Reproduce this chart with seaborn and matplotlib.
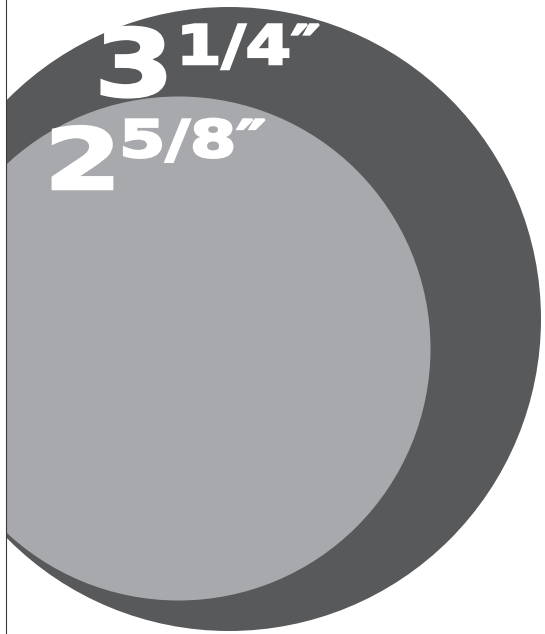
import matplotlib
matplotlib.use("Agg")
import matplotlib.pyplot as plt
from matplotlib.patches import Circle
from matplotlib.transforms import Affine2D
import matplotlib.patheffects as pe
import seaborn as sns

# hole sizes shown, in inches
sizes_in = [3.25, 2.625]
whole_part = ["3", "2"]
fraction_part = ["1/4\u2033", "5/8\u2033"]
fill_colors = ["#58595b", "#a7a9ac"]

W, H = 545, 634
PX_PER_IN = 192  # drawing scale


class WideHeavy(pe.AbstractPathEffect):
    """widen glyphs around x0 (display px) and thicken with a stroke"""

    def __init__(self, sx, x0, lw):
        super().__init__()
        self.sx, self.x0, self.lw = sx, x0, lw

    def draw_path(self, renderer, gc, tpath, affine, rgbFace=None):
        a = affine + Affine2D().translate(-self.x0, 0).scale(self.sx, 1).translate(self.x0, 0)
        gc0 = renderer.new_gc()
        gc0.copy_properties(gc)
        gc0.set_linewidth(self.lw)
        gc0.set_foreground(rgbFace if rgbFace is not None else "white")
        gc0.set_joinstyle("miter")
        renderer.draw_path(gc0, tpath, a, rgbFace)
        gc0.restore()


sns.set_theme(style="white")
plt.rcParams["font.family"] = ["DejaVu Sans"]

fig = plt.figure(figsize=(W / 100, H / 100), dpi=100)
left = 5.5
ax = fig.add_axes([left / W, 0, 1 - left / W, 1])
ax.set_xlim(left, W)
ax.set_ylim(H, 0)
ax.set_aspect("equal")
ax.set_xticks([])
ax.set_yticks([])
for side in ["top", "right", "bottom"]:
    ax.spines[side].set_visible(False)
ax.spines["left"].set_color("#3a3a3a")
ax.spines["left"].set_linewidth(0.8)

# circle centres in px, big one first
centres = [(229, 319), (178.5, 348.5)]
for d, (cx, cy), col in zip(sizes_in, centres, fill_colors):
    ax.add_patch(Circle((cx, cy), d / 2 * PX_PER_IN, facecolor=col, edgecolor="none"))

# labels: (x, baseline) for big digit and for the fraction
label_pos = [((94, 96), (176, 64)), ((44, 189), (119, 157))]
big_fs = [67, 61]
small_fs = [39, 37]
big_sx = [1.24, 1.32]
small_sx = [1.21, 1.3]
for i in range(2):
    (bx, by), (fx, fy) = label_pos[i]
    for s, (x, y), fs, sx in [(whole_part[i], (bx, by), big_fs[i], big_sx[i]),
                              (fraction_part[i], (fx, fy), small_fs[i], small_sx[i])]:
        x0 = ax.transData.transform((x, y))[0]
        ax.text(x, y, s, color="white", fontsize=fs, fontweight="heavy",
                ha="left", va="baseline",
                path_effects=[WideHeavy(sx, x0, 1.8)])

fig.savefig("out.png", dpi=100, facecolor="white")
